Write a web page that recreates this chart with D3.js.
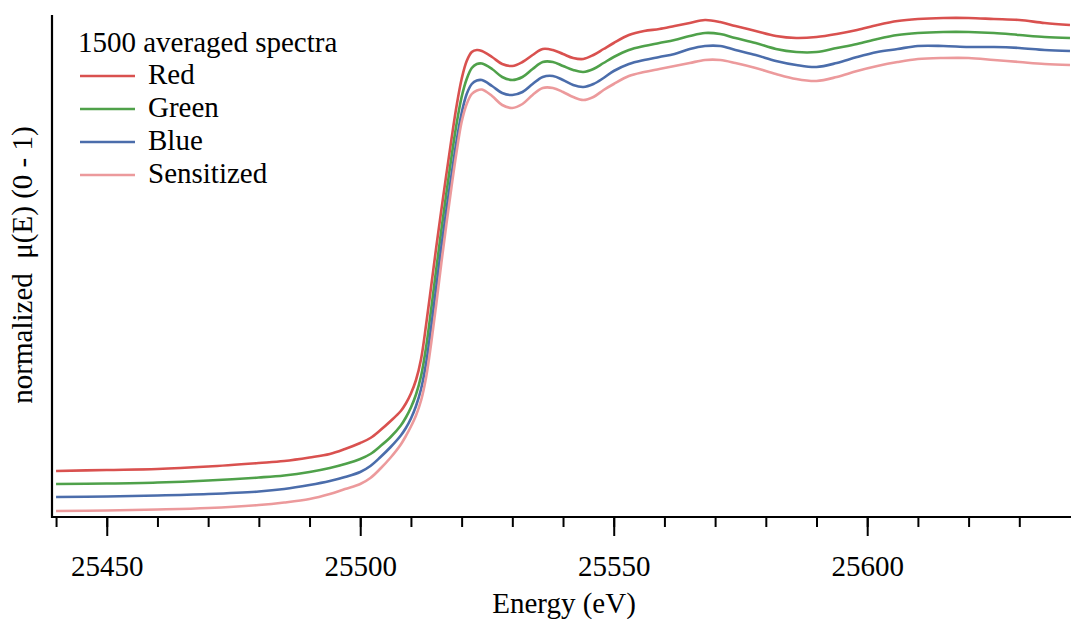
<!DOCTYPE html>
<html lang="en">
	<head>
		<meta charset="utf-8">
		<title>averaged spectra</title>
		<script type="text/javascript" src="https://cdn.jsdelivr.net/npm/d3@7"></script>
		<style type="text/css">
			body { margin: 0; background: #fff; }
			svg text { font-family: "Liberation Serif", Tinos, "Times New Roman", Times, "DejaVu Serif", serif; fill: #000; }
		</style>
	</head>

	<body>
        <script type="text/javascript">

            // chart width and height
			var w = 1071;
			var h = 619;

            // energy grid (eV)
            var energy = [25440, 25450, 25460, 25470, 25480, 25485, 25490, 25494, 25497, 25500,
                25502, 25504, 25506, 25508, 25509, 25510, 25511, 25512, 25513, 25514,
                25515, 25516, 25517, 25518, 25519, 25520, 25521, 25522, 25523, 25524,
                25526, 25528, 25530, 25532, 25534, 25536, 25538, 25540, 25542, 25544,
                25546, 25548, 25550, 25553, 25556, 25559, 25562, 25565, 25568, 25571,
                25574, 25578, 25582, 25586, 25590, 25594, 25598, 25602, 25606, 25610,
                25615, 25620, 25625, 25630, 25635, 25640];

            // normalized mu(E), stacked as plotted
            var red = [0.092, 0.094, 0.096, 0.101, 0.108, 0.112, 0.119, 0.126, 0.136, 0.148,
                0.158, 0.174, 0.192, 0.212, 0.227, 0.247, 0.274, 0.316, 0.385, 0.462,
                0.540, 0.614, 0.686, 0.756, 0.822, 0.876, 0.912, 0.930, 0.934, 0.932,
                0.920, 0.906, 0.902, 0.910, 0.924, 0.936, 0.934, 0.926, 0.918, 0.916,
                0.924, 0.936, 0.948, 0.964, 0.972, 0.976, 0.982, 0.988, 0.994, 0.990,
                0.982, 0.972, 0.962, 0.958, 0.960, 0.966, 0.974, 0.984, 0.992, 0.996,
                0.998, 0.998, 0.996, 0.994, 0.988, 0.984];

            var green = [0.066, 0.067, 0.069, 0.073, 0.079, 0.083, 0.090, 0.098, 0.106, 0.116,
                0.126, 0.142, 0.160, 0.183, 0.199, 0.219, 0.245, 0.282, 0.340, 0.416,
                0.496, 0.574, 0.648, 0.720, 0.786, 0.840, 0.876, 0.898, 0.906, 0.907,
                0.896, 0.880, 0.874, 0.880, 0.896, 0.910, 0.910, 0.902, 0.894, 0.890,
                0.896, 0.908, 0.920, 0.934, 0.942, 0.948, 0.954, 0.962, 0.968, 0.966,
                0.958, 0.948, 0.936, 0.930, 0.930, 0.938, 0.946, 0.956, 0.964, 0.968,
                0.970, 0.970, 0.968, 0.964, 0.960, 0.958];

            var blue = [0.040, 0.041, 0.043, 0.046, 0.051, 0.056, 0.064, 0.072, 0.080, 0.090,
                0.102, 0.120, 0.140, 0.163, 0.178, 0.197, 0.222, 0.256, 0.308, 0.380,
                0.460, 0.540, 0.614, 0.684, 0.752, 0.808, 0.846, 0.866, 0.873, 0.874,
                0.862, 0.848, 0.844, 0.850, 0.866, 0.880, 0.882, 0.874, 0.864, 0.860,
                0.866, 0.878, 0.892, 0.906, 0.914, 0.920, 0.926, 0.936, 0.942, 0.942,
                0.934, 0.924, 0.912, 0.904, 0.900, 0.908, 0.920, 0.930, 0.936, 0.942,
                0.942, 0.940, 0.940, 0.938, 0.934, 0.932];

            var sensitized = [0.012, 0.013, 0.015, 0.018, 0.024, 0.029, 0.036, 0.046, 0.056, 0.066,
                0.078, 0.097, 0.119, 0.145, 0.162, 0.181, 0.203, 0.233, 0.280, 0.348,
                0.426, 0.508, 0.586, 0.660, 0.730, 0.790, 0.826, 0.846, 0.853, 0.855,
                0.842, 0.824, 0.818, 0.826, 0.844, 0.858, 0.858, 0.850, 0.840, 0.834,
                0.840, 0.854, 0.866, 0.882, 0.890, 0.896, 0.902, 0.908, 0.914, 0.914,
                0.908, 0.898, 0.886, 0.876, 0.872, 0.880, 0.892, 0.902, 0.910, 0.916,
                0.918, 0.918, 0.914, 0.910, 0.906, 0.904];

            var seriesNames = ["Red", "Green", "Blue", "Sensitized"];
            var seriesValues = [red, green, blue, sensitized];
            var colors = ["#d9514f", "#4fa14a", "#4b6dab", "#ec9a9c"];

            var minorTicks = d3.range(25440, 25631, 10);
            var majorTicks = [25450, 25500, 25550, 25600];

            var legendTitle = "1500 averaged spectra";

            // scales
            var xScale = d3.scaleLinear()
                .domain([25439.2, 25640.2])
                .range([52, 1071]);

            var yScale = d3.scaleLinear()
                .domain([0, 1.004])
                .range([517, 15]);

			//create SVG element
			var svg = d3.select("body")
						.append("svg")
						.attr("width", w)
						.attr("height", h);

            // spectra
            var line = d3.line()
                .x(function(d) { return xScale(d[0]); })
                .y(function(d) { return yScale(d[1]); })
                .curve(d3.curveCatmullRom.alpha(0.5));

            seriesValues.forEach(function(vals, i) {
                svg.append("path")
                    .datum(energy.map(function(e, j) { return [e, vals[j]]; }))
                    .attr("fill", "none")
                    .attr("stroke", colors[i])
                    .attr("stroke-width", 2.6)
                    .attr("stroke-linejoin", "round")
                    .attr("d", line);
            });

            // minor ticks, no labels
            var xMinor = d3.axisBottom(xScale)
                .tickValues(minorTicks)
                .tickSize(10)
                .tickFormat("");

            // major ticks with labels
            var xMajor = d3.axisBottom(xScale)
                .tickValues(majorTicks)
                .tickSize(19)
                .tickPadding(19)
                .tickFormat(d3.format("d"));

            var gMinor = svg.append("g")
                .attr("transform", "translate(0,517)")
                .call(xMinor);
            gMinor.select(".domain").remove();
            gMinor.selectAll("line").attr("stroke", "#000").attr("stroke-width", 2);

            var gMajor = svg.append("g")
                .attr("transform", "translate(0,517)")
                .call(xMajor);
            gMajor.select(".domain").remove();
            gMajor.selectAll("line").attr("stroke", "#000").attr("stroke-width", 2);
            gMajor.attr("font-family", null).attr("font-size", null);
            gMajor.selectAll("text")
                .style("font-size", "29px")
                .attr("fill", "#000");

            // axis lines
            svg.append("line")
                .attr("x1", 52).attr("x2", 1071)
                .attr("y1", yScale(0)).attr("y2", yScale(0))
                .attr("stroke", "#000").attr("stroke-width", 2.2);

            svg.append("line")
                .attr("x1", 52).attr("x2", 52)
                .attr("y1", yScale(1.004)).attr("y2", yScale(0) + 1)
                .attr("stroke", "#000").attr("stroke-width", 2.2);

            // axis titles
            svg.append("text")
                .attr("x", 564)
                .attr("y", 613)
                .attr("text-anchor", "middle")
                .style("font-size", "29px")
                .text("Energy (eV)");

            svg.append("text")
                .attr("transform", "translate(32,265) rotate(-90)")
                .attr("text-anchor", "middle")
                .style("font-size", "29px")
                .style("white-space", "pre")
                .text("normalized  \u03bc(E) (0 - 1)");

            // legend
            svg.append("text")
                .attr("x", 78)
                .attr("y", 52)
                .style("font-size", "29px")
                .text(legendTitle);

            var legend = svg.selectAll(".legend")
                .data(seriesNames)
                .enter()
                .append("g")
                .attr("class", "legend")
                .attr("transform", function(d, i) { return "translate(0," + (84 + i * 33) + ")"; });

            legend.append("line")
                .attr("x1", 80).attr("x2", 135)
                .attr("y1", -8).attr("y2", -8)
                .attr("stroke", function(d, i) { return colors[i]; })
                .attr("stroke-width", 2.6);

            legend.append("text")
                .attr("x", 148)
                .attr("y", 0)
                .style("font-size", "29px")
                .text(function(d) { return d; });

        </script>
	</body>
</html>
